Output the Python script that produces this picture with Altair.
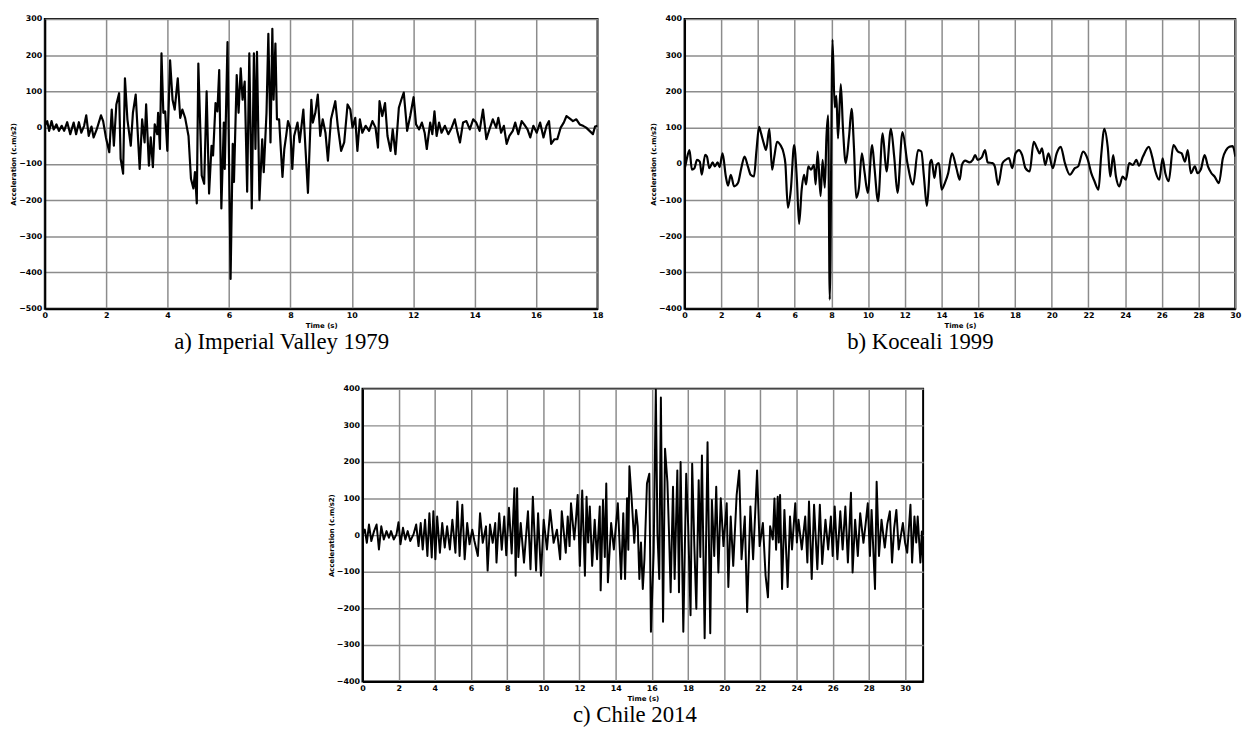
import altair as alt
import pandas as pd

# ---------------- data ----------------
# a) Imperial Valley 1979 : (time s, acceleration cm/s2)
IMPERIAL_PTS = [
    (0, 5), (0.08, 18), (0.14, -9), (0.22, 18), (0.29, -5), (0.38, 9), (0.46, -9), (0.55, 5), (0.63, -9),
    (0.73, 15), (0.83, -18), (0.94, 14), (1.02, -18), (1.11, 15), (1.19, -14), (1.28, 5), (1.35, 34),
    (1.43, -23), (1.52, 3), (1.59, -27), (1.69, -5), (1.83, 34), (1.90, 18), (1.99, -27), (2.10, -68),
    (2.18, 50), (2.25, -50), (2.33, 64), (2.42, 95), (2.47, -86), (2.55, -127), (2.61, 136), (2.69, 23),
    (2.80, -50), (2.87, 41), (2.96, 91), (3.09, -114), (3.17, 23), (3.25, -41), (3.30, 64), (3.39, -105),
    (3.45, -27), (3.52, -109), (3.58, 9), (3.66, -18), (3.69, 41), (3.75, -59), (3.80, 205), (3.86, 41),
    (3.92, 45), (3.99, -64), (4.08, 186), (4.16, 77), (4.23, 50), (4.33, 136), (4.41, 27), (4.48, 50),
    (4.57, 27), (4.68, -23), (4.76, -141), (4.84, -168), (4.89, -123), (4.95, -209), (5.00, 177),
    (5.11, -132), (5.19, -155), (5.27, 100), (5.35, -182), (5.43, -50), (5.48, -77), (5.56, 68), (5.62, 45),
    (5.68, 159), (5.75, -223), (5.83, 14), (5.86, -114), (5.95, 236), (6.05, -418), (6.12, -45),
    (6.16, -150), (6.25, 145), (6.31, 41), (6.38, 164), (6.44, 77), (6.51, 127), (6.59, -177), (6.66, 205),
    (6.74, -223), (6.81, 205), (6.86, -59), (6.91, 209), (6.99, -200), (7.08, -32), (7.13, -123),
    (7.22, 41), (7.28, 259), (7.35, -41), (7.41, 273), (7.45, 77), (7.51, 232), (7.56, 23), (7.63, 23),
    (7.69, -64), (7.74, -136), (7.80, -59), (7.86, -23), (7.92, 18), (7.99, 0), (8.06, -114), (8.12, -23),
    (8.23, 14), (8.30, -40), (8.42, 50), (8.49, -59), (8.57, -180), (8.68, 77), (8.73, 14), (8.81, 41),
    (8.89, 91), (8.97, -23), (9.05, 23), (9.14, -14), (9.22, -91), (9.32, 23), (9.46, 73), (9.54, 5),
    (9.65, -64), (9.75, -41), (9.86, 64), (9.95, 50), (10.02, 0), (10.11, 27), (10.18, -64), (10.26, 23),
    (10.34, -14), (10.45, 5), (10.56, -9), (10.67, 18), (10.77, 0), (10.85, -55), (10.90, 73), (10.99, 32),
    (11.08, 68), (11.16, -23), (11.26, -64), (11.33, -5), (11.42, -73), (11.53, 55), (11.61, 77),
    (11.69, 97), (11.80, -9), (11.90, 32), (12.01, 84), (12.09, 9), (12.19, -5), (12.28, 14), (12.37, -14),
    (12.44, -59), (12.55, 14), (12.62, -18), (12.69, 45), (12.76, -23), (12.84, 14), (12.92, -14),
    (13.03, 5), (13.14, -18), (13.25, 0), (13.35, 23), (13.43, -9), (13.52, -41), (13.62, 14), (13.73, 18),
    (13.84, -5), (13.95, 23), (14.05, 14), (14.16, -9), (14.27, 50), (14.38, -32), (14.48, -5), (14.59, 23),
    (14.70, 0), (14.77, 27), (14.86, -14), (14.95, 5), (15.04, -45), (15.13, -23), (15.24, -9), (15.32, 14),
    (15.42, -18), (15.53, 18), (15.61, 9), (15.72, -5), (15.81, -27), (15.91, 5), (16.02, -14), (16.13, 14),
    (16.24, -27), (16.34, 5), (16.42, 18), (16.49, -45), (16.60, -32), (16.69, -32), (16.80, 0), (16.90, 14),
    (16.99, 32), (17.10, 25), (17.20, 18), (17.31, 23), (17.42, 9), (17.53, 5), (17.63, 0), (17.74, -9),
    (17.85, -18), (17.92, 3), (18.0, 5),
]

# b) Koceali 1999
KOCEALI_PTS = [
    (0, -16), (0.09, 6), (0.27, 38), (0.40, -16), (0.54, -12), (0.68, 11), (0.83, 6), (0.94, -30),
    (1.12, 25), (1.22, 20), (1.35, -12), (1.53, 4), (1.65, -7), (1.80, 4), (1.91, -9), (2.07, 29),
    (2.25, -35), (2.37, -60), (2.52, -30), (2.70, -62), (2.91, -53), (3.09, -12), (3.27, 20), (3.45, -7),
    (3.60, -30), (3.78, -35), (3.92, 38), (4.06, 102), (4.17, 84), (4.32, 56), (4.44, 38), (4.62, 97),
    (4.77, -16), (4.89, 20), (5.04, 61), (5.22, 52), (5.40, 29), (5.49, 2), (5.63, -121), (5.79, -71),
    (5.97, 52), (6.12, -44), (6.24, -166), (6.38, -71), (6.51, -30), (6.62, -57), (6.74, -7), (6.89, -16),
    (7.05, -3), (7.14, -57), (7.25, 34), (7.41, -89), (7.52, 11), (7.64, -66), (7.73, 75), (7.82, 134),
    (7.91, -375), (8.06, 343), (8.18, 156), (8.27, 188), (8.36, 70), (8.51, 220), (8.63, 97), (8.78, 2),
    (8.96, 75), (9.10, 152), (9.23, 43), (9.35, -94), (9.50, -66), (9.66, 29), (9.80, -21), (9.98, -80),
    (10.22, 52), (10.34, -7), (10.54, -103), (10.79, 84), (11.0, -21), (11.24, 97), (11.42, 20),
    (11.60, -80), (11.87, 88), (12.14, 2), (12.45, -57), (12.72, 38), (12.90, 34), (13.04, -35),
    (13.20, -116), (13.30, -60), (13.37, 2), (13.46, 11), (13.61, -39), (13.73, -3), (13.86, 2),
    (14.0, -71), (14.18, -53), (14.36, -26), (14.57, 29), (14.81, -12), (14.99, -44), (15.11, -3),
    (15.29, 9), (15.52, 4), (15.70, 11), (15.83, 24), (15.97, 11), (16.19, 18), (16.37, 38), (16.51, 4),
    (16.78, 2), (16.90, -7), (17.08, -58), (17.32, 2), (17.49, 11), (17.67, 16), (17.85, -12), (18.03, 29),
    (18.21, 38), (18.39, 24), (18.57, -12), (18.80, -21), (19.02, 61), (19.20, 43), (19.34, 29),
    (19.47, 43), (19.65, -3), (19.82, 29), (20.06, -12), (20.27, 29), (20.49, 47), (20.72, 2),
    (20.99, -30), (21.26, -12), (21.44, -7), (21.71, 34), (21.97, 11), (22.15, -25), (22.33, -48),
    (22.55, -71), (22.69, 20), (22.87, 97), (23.05, 47), (23.19, -35), (23.35, 24), (23.50, -35),
    (23.68, -62), (23.86, -35), (24.04, -44), (24.22, 2), (24.43, -3), (24.61, 11), (24.75, -5),
    (24.97, 20), (25.29, 47), (25.47, 20), (25.65, -21), (25.86, -44), (26.04, 15), (26.19, -26),
    (26.37, -48), (26.63, 52), (26.87, 34), (27.08, 29), (27.26, 6), (27.41, 38), (27.58, -26),
    (27.80, -7), (27.94, -26), (28.12, -16), (28.33, 24), (28.51, -7), (28.70, -26), (28.87, -35),
    (29.11, -53), (29.32, 15), (29.50, 38), (29.68, 47), (29.86, 49), (30.0, 20),
]

# c) Chile 2014
CHILE_PTS = [
    (0, 0), (0.13, 15), (0.24, -21), (0.36, 29), (0.49, -16), (0.64, 11), (0.78, 29), (0.91, -39),
    (1.04, 24), (1.18, -12), (1.33, 11), (1.46, -7), (1.58, 11), (1.73, -12), (1.88, 2), (1.99, 35),
    (2.10, -25), (2.24, 20), (2.37, -12), (2.50, 11), (2.64, -16), (2.82, 2), (2.97, 29), (3.10, -30),
    (3.22, 33), (3.33, -39), (3.46, 42), (3.59, -57), (3.70, 60), (3.83, -61), (3.92, 65), (4.03, -66),
    (4.13, 51), (4.28, -48), (4.41, 33), (4.55, -34), (4.68, 24), (4.83, -39), (4.97, 42), (5.14, -48),
    (5.25, 92), (5.37, -57), (5.52, 83), (5.65, -66), (5.79, 33), (5.92, -25), (6.07, 15), (6.19, -16),
    (6.38, -57), (6.50, 60), (6.65, -21), (6.83, 24), (6.92, -97), (7.05, 29), (7.20, -21), (7.34, 33),
    (7.41, -75), (7.56, 60), (7.70, -40), (7.84, 51), (7.95, -55), (8.10, 75), (8.25, -50), (8.40, 128),
    (8.47, -111), (8.55, 128), (8.62, -60), (8.75, 33), (8.93, -75), (9.15, 65), (9.29, -93), (9.42, 105),
    (9.60, -97), (9.71, 60), (9.87, -111), (10.02, 42), (10.20, -39), (10.38, 69), (10.57, -21),
    (10.75, 15), (10.93, -66), (11.02, 65), (11.24, -48), (11.35, 51), (11.45, -30), (11.53, 87),
    (11.71, -12), (11.80, 40), (11.90, 110), (12.02, -84), (12.15, 122), (12.30, -111), (12.39, 105),
    (12.48, -20), (12.57, 78), (12.70, -84), (12.84, 42), (12.97, -66), (13.12, 78), (13.17, -151),
    (13.30, 96), (13.40, -60), (13.48, 141), (13.57, -129), (13.75, 33), (13.90, -39), (14.12, 87),
    (14.30, -120), (14.42, 60), (14.52, -120), (14.63, 101), (14.70, -40), (14.76, 188), (14.88, 101),
    (15.03, -21), (15.13, 69), (15.22, 24), (15.31, -120), (15.40, -20), (15.50, -147), (15.59, -66),
    (15.73, 141), (15.86, 168), (15.95, -264), (16.10, -48), (16.22, 398), (16.31, 6), (16.41, -120),
    (16.50, 376), (16.62, -237), (16.73, 236), (16.86, 146), (16.95, 6), (17.04, -156), (17.17, 132),
    (17.26, -120), (17.41, 177), (17.50, -156), (17.59, 200), (17.74, -264), (17.90, 168), (18.01, 24),
    (18.14, -219), (18.23, 195), (18.35, -30), (18.46, -201), (18.59, 150), (18.68, -60), (18.77, 218),
    (18.92, -282), (19.08, 254), (19.23, -268), (19.32, 96), (19.45, -57), (19.56, 132), (19.68, -102),
    (19.81, 101), (19.96, -30), (20.14, 87), (20.23, -142), (20.36, 51), (20.50, -84), (20.69, 110),
    (20.83, 177), (20.96, -66), (21.14, 51), (21.27, -210), (21.45, 78), (21.60, -66), (21.82, 177),
    (21.96, -30), (22.14, 33), (22.29, -111), (22.42, -170), (22.54, 24), (22.69, -12), (22.78, 100),
    (22.87, -40), (22.96, 105), (23.02, -20), (23.09, 110), (23.20, -147), (23.33, 69), (23.51, -142),
    (23.64, 51), (23.75, -39), (23.93, 87), (24.02, -20), (24.11, 42), (24.29, -39), (24.48, 51),
    (24.60, -75), (24.69, 92), (24.84, -120), (24.97, 83), (25.15, -93), (25.29, 83), (25.42, -79),
    (25.60, 42), (25.75, -39), (25.90, 51), (26.00, -57), (26.11, 78), (26.26, -66), (26.42, 65),
    (26.55, -39), (26.70, 78), (26.84, -75), (27.01, 116), (27.10, -102), (27.24, 42), (27.39, -57),
    (27.52, 60), (27.70, -21), (27.82, 30), (27.94, 87), (28.06, -57), (28.15, 69), (28.34, -147),
    (28.43, 146), (28.56, -57), (28.70, 42), (28.88, -34), (29.02, 30), (29.16, 65), (29.28, -75),
    (29.40, 20), (29.52, 69), (29.65, -39), (29.88, 33), (30.00, -20), (30.12, -48), (30.30, 83),
    (30.39, -75), (30.52, 51), (30.62, -20), (30.70, 51), (30.85, -75), (30.93, 10), (31.0, -75),
]

CAPTIONS = ["a) Imperial Valley 1979", "b) Koceali 1999", "c) Chile 2014"]
X_TITLE = "Time (s)"
Y_TITLE = "Acceleration (c.m/s2)"


def panel(pts, xmax, xstep, ymin, ymax, w, h, caption, dx, interp, sw):
    df = pd.DataFrame(pts, columns=["t", "v"])
    xvals = list(range(0, xmax + 1, xstep))
    yvals = list(range(ymin, ymax + 1, 100))
    return (
        alt.Chart(df)
        .mark_line(color="black", strokeWidth=sw, clip=True, interpolate=interp, strokeJoin="round")
        .encode(
            x=alt.X("t:Q", scale=alt.Scale(domain=[0, xmax], nice=False, zero=False),
                    axis=alt.Axis(values=xvals, title=X_TITLE, format="d")),
            y=alt.Y("v:Q", scale=alt.Scale(domain=[ymin, ymax], nice=False),
                    axis=alt.Axis(values=yvals, title=Y_TITLE, format="d")),
        )
        .properties(
            width=w, height=h,
            title=alt.TitleParams(caption, orient="bottom", anchor="middle", frame="group",
                                  font="Liberation Serif", fontSize=23, fontWeight="normal",
                                  color="black", offset=3, dx=dx),
        )
    )


a = panel(IMPERIAL_PTS, 18, 2, -500, 300, 559, 293, CAPTIONS[0], -40, "linear", 2.2)
b = panel(KOCEALI_PTS, 30, 2, -400, 400, 557, 293, CAPTIONS[1], -40, "monotone", 2.2)
c = panel(CHILE_PTS, 31, 2, -400, 400, 567, 296, CAPTIONS[2], -8, "linear", 2)

top = alt.hconcat(a, b, spacing=44)
chart = (
    alt.vconcat(top, c, spacing=29, center=True)
    .properties(padding={"left": 0, "top": 2, "right": 0, "bottom": 2}, background="white")
    .configure_axis(
        labelFont="DejaVu Sans", labelFontWeight="bold", labelFontSize=8, labelColor="black",
        titleFont="DejaVu Sans", titleFontWeight="bold", titleFontSize=7, titleColor="black",
        domainColor="black", domainWidth=2, ticks=False, labelPadding=3, titlePadding=2,
        gridColor="#8c8c8c", gridWidth=1.5, labelFlush=False,
    )
    .configure_view(stroke="black", strokeWidth=2)
)

chart.save("out.html", embed_options={"renderer": "svg", "actions": False})
